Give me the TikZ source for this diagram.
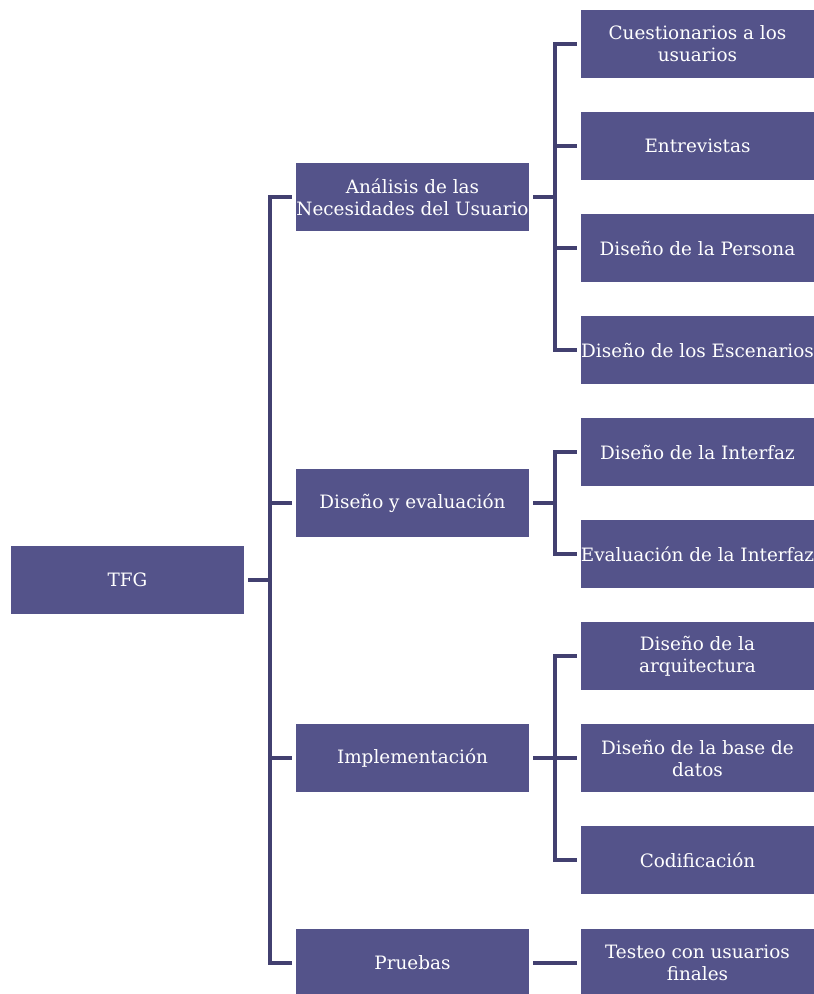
\documentclass[tikz,border=0pt]{standalone}
\usepackage{fontspec}
\setmainfont{DejaVu Serif}
\usetikzlibrary{calc}

\definecolor{boxfill}{RGB}{84,83,138}
\definecolor{linecol}{RGB}{66,64,112}

\tikzset{
	tbox/.style={fill=boxfill, text=white, minimum width=233pt, minimum height=68pt,
		inner sep=0pt, align=center, font=\fontsize{18.4}{22}\selectfont},
	link/.style={draw=linecol, line width=3.5pt, line join=miter, shorten <=4pt, shorten >=4pt}
}

\begin{document}
\begin{tikzpicture}[x=1pt, y=-1pt]
	\useasboundingbox (0,0) rectangle (814,994);
	% root and first level
	\node[tbox] (tfg) at (127.5,580) {TFG};
	\node[tbox] (ana) at (412.5,197) {Análisis de las\\Necesidades del Usuario};
	\node[tbox] (dis) at (412.5,503) {Diseño y evaluación};
	\node[tbox] (imp) at (412.5,758) {Implementación};
	\node[tbox] (pru) at (412.5,963) {Pruebas};
	% second level
	\node[tbox] (cue) at (697.5,44) {Cuestionarios a los\\usuarios};
	\node[tbox] (ent) at (697.5,146) {Entrevistas};
	\node[tbox] (per) at (697.5,248) {Diseño de la Persona};
	\node[tbox] (esc) at (697.5,350) {Diseño de los Escenarios};
	\node[tbox] (int) at (697.5,452) {Diseño de la Interfaz};
	\node[tbox] (eva) at (697.5,554) {Evaluación de la Interfaz};
	\node[tbox] (arq) at (697.5,656) {Diseño de la\\arquitectura};
	\node[tbox] (bdd) at (697.5,758) {Diseño de la base de\\datos};
	\node[tbox] (cod) at (697.5,860) {Codificación};
	\node[tbox] (tes) at (697.5,963) {Testeo con usuarios\\finales};

	% trunks
	\coordinate (t0) at (270,580);
	\coordinate (t1) at (555,197);
	\coordinate (t2) at (555,503);
	\coordinate (t3) at (555,758);

	\draw[link, shorten >=0pt] (tfg) -- (t0);
	\foreach \c in {ana,dis,imp,pru}
		\draw[link, shorten <=0pt] (t0) |- (\c);

	\draw[link, shorten >=0pt] (ana) -- (t1);
	\foreach \c in {cue,ent,per,esc}
		\draw[link, shorten <=0pt] (t1) |- (\c);

	\draw[link, shorten >=0pt] (dis) -- (t2);
	\foreach \c in {int,eva}
		\draw[link, shorten <=0pt] (t2) |- (\c);

	\draw[link, shorten >=0pt] (imp) -- (t3);
	\foreach \c in {arq,bdd,cod}
		\draw[link, shorten <=0pt] (t3) |- (\c);

	\draw[link] (pru) -- (tes);
\end{tikzpicture}
\end{document}
